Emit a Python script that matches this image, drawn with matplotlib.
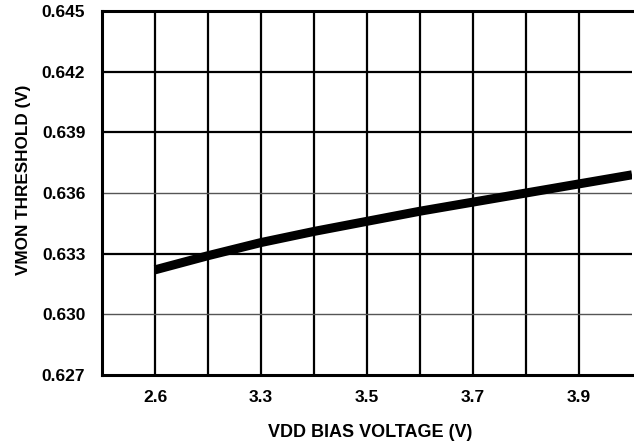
import matplotlib
matplotlib.use("Agg")
import matplotlib.pyplot as plt

# Data
vdd = [3.1, 3.2, 3.3, 3.4, 3.5, 3.6, 3.7, 3.8, 3.9, 4.0]
vmon = [0.6322, 0.6329, 0.63355, 0.6341, 0.6346, 0.6351, 0.63555, 0.6360, 0.63645, 0.6369]

x_tick_pos = [3.1, 3.3, 3.5, 3.7, 3.9]
x_tick_labels = ["2.6", "3.3", "3.5", "3.7", "3.9"]
x_grid = [3.1, 3.2, 3.3, 3.4, 3.5, 3.6, 3.7, 3.8, 3.9]
y_ticks = [0.627, 0.630, 0.633, 0.636, 0.639, 0.642, 0.645]
y_grid_black = [0.633, 0.639, 0.642]
y_grid_grey = [0.630, 0.636]

plt.rcParams['font.family'] = ['Liberation Sans', 'DejaVu Sans']

fig = plt.figure(figsize=(6.34, 4.48), dpi=100)
ax = fig.add_axes([102/634, 1-375/448, 530/634, 364/448])

ax.set_xlim(3.0, 4.0)
ax.set_ylim(0.627, 0.645)

for xv in x_grid:
    ax.axvline(xv, color='black', lw=1.6, zorder=1)
for yv in y_grid_black:
    ax.axhline(yv, color='black', lw=1.6, zorder=1)
for yv in y_grid_grey:
    ax.axhline(yv, color='#555555', lw=1.0, zorder=1)

ax.plot(vdd, vmon, color='black', lw=6.5, solid_capstyle='butt',
        solid_joinstyle='round', zorder=3)

for s in ['left', 'bottom', 'top']:
    ax.spines[s].set_linewidth(2.2)
ax.spines['right'].set_visible(False)

ax.set_xticks(x_tick_pos)
ax.set_xticklabels(x_tick_labels, fontsize=12.5, fontweight='bold')
ax.set_yticks(y_ticks)
ax.set_yticklabels([f"{v:.3f}" for v in y_ticks], fontsize=12.5, fontweight='bold')
ax.tick_params(axis='both', length=0)
ax.tick_params(axis='x', pad=11)
ax.tick_params(axis='y', pad=12)

ax.set_xlabel("VDD BIAS VOLTAGE (V)", fontsize=13, fontweight='bold', va='center')
ax.xaxis.set_label_coords(0.506, -0.157)
ax.set_ylabel("VMON THRESHOLD (V)", fontsize=12.3, fontweight='bold', va='center')
ax.yaxis.set_label_coords(-0.149, 0.537)

fig.savefig("out.png", dpi=100)
